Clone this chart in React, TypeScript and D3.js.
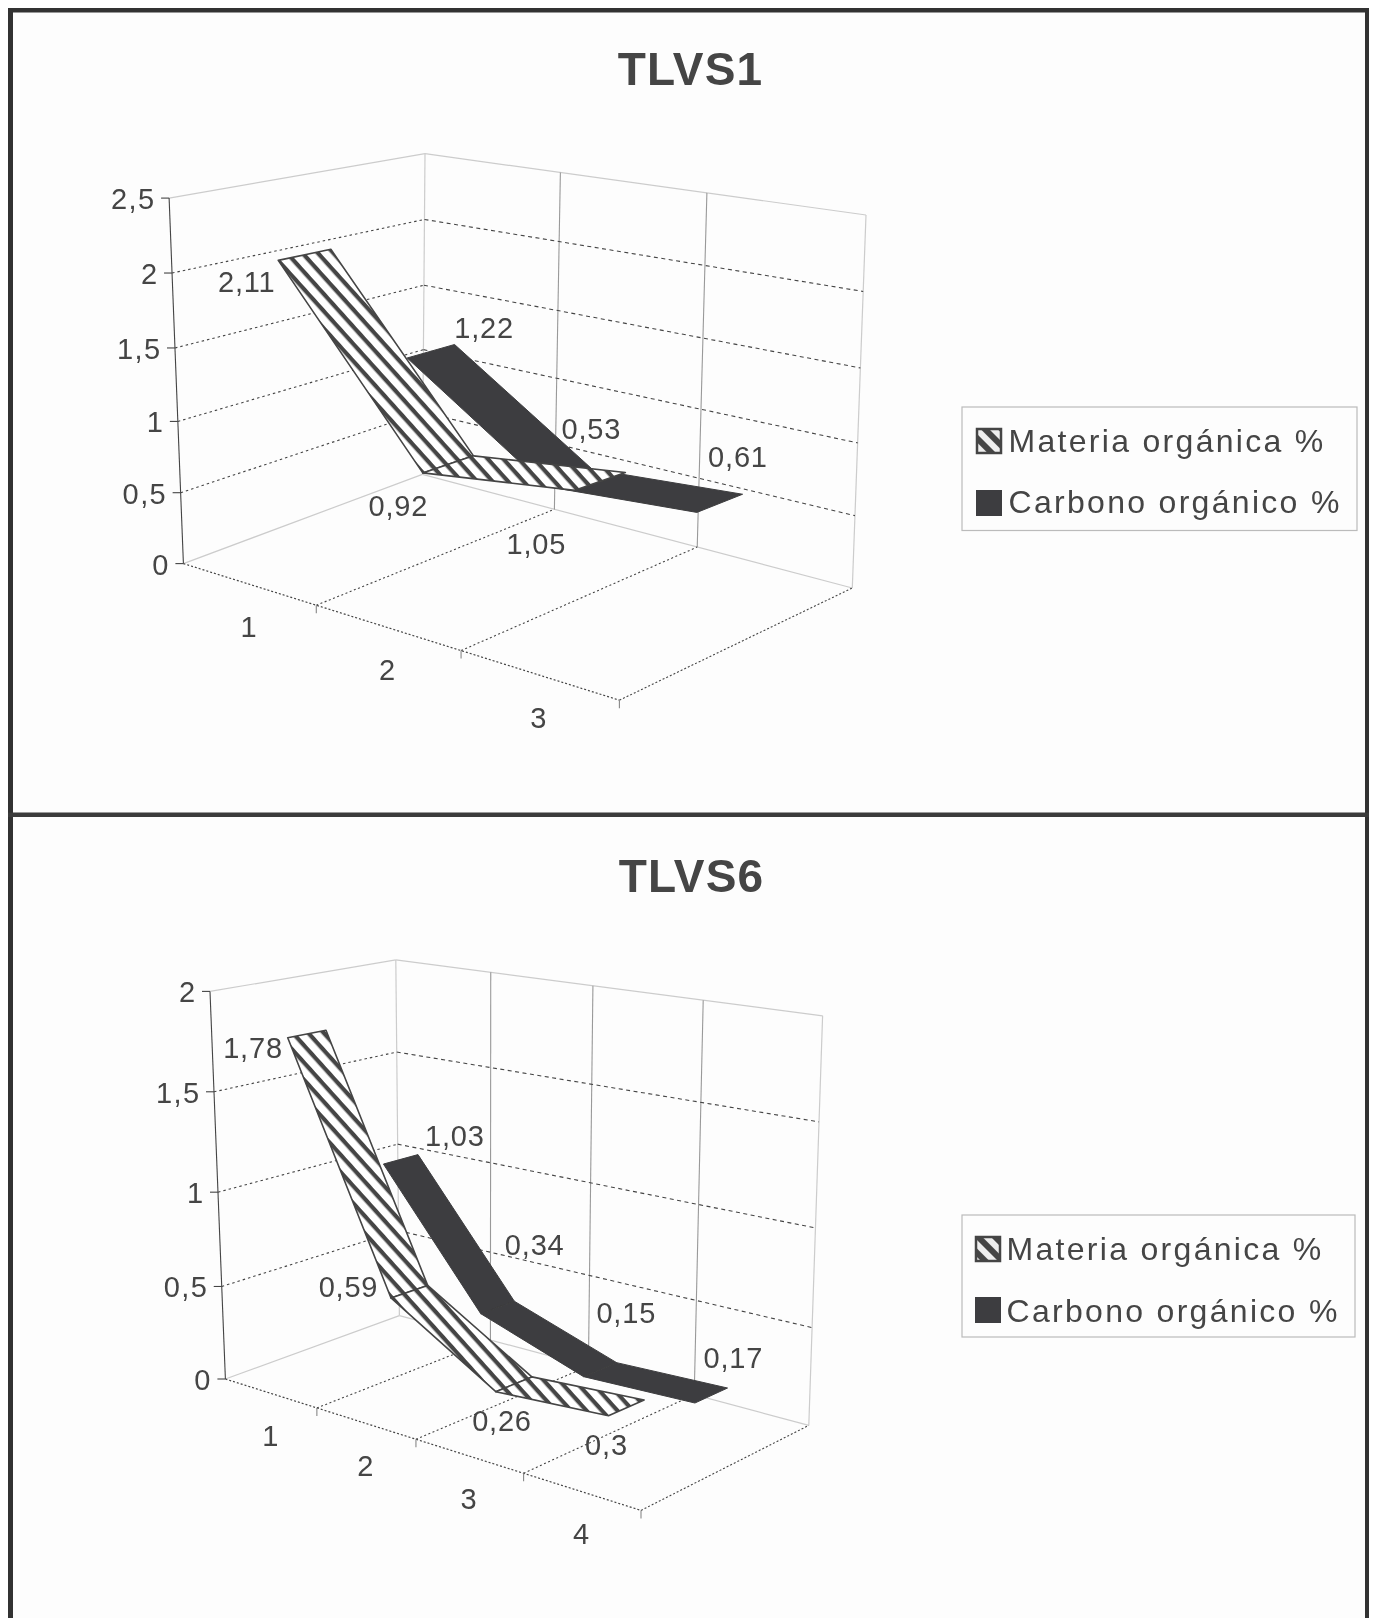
import React from "react";
import * as d3 from "d3";

const seriesNames = ["Materia orgánica %", "Carbono orgánico %"];

const tlvs1Categories = ["1", "2", "3"];
const tlvs1Materia = [2.11, 0.92, 1.05];
const tlvs1Carbono = [1.22, 0.53, 0.61];
const tlvs1Ticks = [0, 0.5, 1, 1.5, 2, 2.5];
const tlvs1TickPos = [0, 0.194, 0.389, 0.59, 0.795, 1];
const tlvs1MateriaOffsets = [[-58, 27], [-50, 42], [-64, 63]];
const tlvs1CarbonoOffsets = [[53, -23], [22, -49], [18, -46]];

const tlvs6Categories = ["1", "2", "3", "4"];
const tlvs6Materia = [1.78, 0.59, 0.26, 0.3];
const tlvs6Carbono = [1.03, 0.34, 0.15, 0.17];
const tlvs6Ticks = [0, 0.5, 1, 1.5, 2];
const tlvs6TickPos = [0, 0.2387, 0.482, 0.741, 1];
const tlvs6MateriaOffsets = [[-54, 14], [-61, -5], [-12, 37], [-20, 37]];
const tlvs6CarbonoOffsets = [[54, -23], [37, -62], [26, -57], [22, -37]];

type Pt = [number, number];
const INK = "#444";
const FONT = "'Liberation Sans', Arial, sans-serif";
const fmt = (v: number) => String(v).replace(".", ",");

function quadMap(p0: Pt, p1: Pt, p2: Pt, p3: Pt) {
  const dx1 = p1[0] - p2[0], dx2 = p3[0] - p2[0], sx = p0[0] - p1[0] + p2[0] - p3[0];
  const dy1 = p1[1] - p2[1], dy2 = p3[1] - p2[1], sy = p0[1] - p1[1] + p2[1] - p3[1];
  const den = dx1 * dy2 - dx2 * dy1;
  const g = (sx * dy2 - dx2 * sy) / den;
  const h = (dx1 * sy - sx * dy1) / den;
  const a = p1[0] - p0[0] + g * p1[0], b = p3[0] - p0[0] + h * p3[0], c = p0[0];
  const d = p1[1] - p0[1] + g * p1[1], e = p3[1] - p0[1] + h * p3[1], f = p0[1];
  return (u: number, v: number): Pt => {
    const w = g * u + h * v + 1;
    return [(a * u + b * v + c) / w, (d * u + e * v + f) / w];
  };
}

type PanelProps = {
  id: string;
  title: string;
  titleX: number;
  titleY: number;
  categories: string[];
  materia: number[];
  carbono: number[];
  ticks: number[];
  tickPos: number[];
  materiaOffsets: number[][];
  carbonoOffsets: number[][];
  floor: [Pt, Pt, Pt, Pt];
  top: [Pt, Pt, Pt, Pt];
  legend: { x0: number; x1: number; y0: number; y1: number; sw: number; swX: number; swY: number[]; txtX: number; txtY: number[] };
};

function Panel(p: PanelProps) {
  const floor = quadMap(...p.floor);
  const roof = quadMap(...p.top);
  const frac = d3.scaleLinear().domain(p.ticks).range(p.tickPos);
  const uBand = d3.scaleBand().domain(p.categories).range([0, 1]);
  const vBand = d3.scaleBand().domain(seriesNames).range([0, 1]).paddingInner(0.6).paddingOuter(0.3);
  const at = (u: number, v: number, val: number): Pt => {
    const f = floor(u, v), t = roof(u, v), k = frac(val);
    return [f[0] + (t[0] - f[0]) * k, f[1] + (t[1] - f[1]) * k];
  };
  const line = d3.line();
  const yMax = p.ticks[p.ticks.length - 1];
  const uTicks = p.categories.map((c) => uBand(c)! + uBand.bandwidth());
  const uInner = uTicks.slice(0, -1);
  const centers = p.categories.map((c) => uBand(c)! + uBand.bandwidth() / 2);

  const ribbon = (name: string, vals: number[]) => {
    const v0 = vBand(name)!, v1 = v0 + vBand.bandwidth();
    return d3.pairs(d3.range(vals.length)).map(([a, b]) =>
      line([at(centers[a], v0, vals[a]), at(centers[b], v0, vals[b]), at(centers[b], v1, vals[b]), at(centers[a], v1, vals[a])])! + "Z"
    );
  };
  const center = (name: string, i: number, vals: number[]): Pt =>
    at(centers[i], vBand(name)! + vBand.bandwidth() / 2, vals[i]);

  const L = (a: Pt, b: Pt, stroke: string, w: number, dash?: string, key?: string) => (
    <line key={key} x1={a[0]} y1={a[1]} x2={b[0]} y2={b[1]} stroke={stroke} strokeWidth={w} strokeDasharray={dash} />
  );

  return (
    <g fontFamily={FONT} fill={INK}>
      <defs>
        <pattern id={p.id + "-h"} width={11.5} height={11.5} patternUnits="userSpaceOnUse" patternTransform="rotate(48)">
          <rect width={11.5} height={11.5} fill="#fff" />
          <rect width={11.5} height={4.2} fill={INK} />
        </pattern>
        <pattern id={p.id + "-s"} width={12} height={12} patternUnits="userSpaceOnUse" patternTransform="rotate(45)">
          <rect width={12} height={12} fill="#eee" />
          <rect width={12} height={6} fill={INK} />
        </pattern>
      </defs>
      <text x={p.titleX} y={p.titleY} fontSize={46} fontWeight={700} textAnchor="middle" letterSpacing={1.2}>{p.title}</text>

      {/* walls */}
      {L(at(0, 0, yMax), at(0, 1, yMax), "#ccc", 1.2)}
      {L(at(0, 1, yMax), at(1, 1, yMax), "#ccc", 1.2)}
      {L(at(0, 1, 0), at(0, 1, yMax), "#ccc", 1.2)}
      {L(at(1, 1, 0), at(1, 1, yMax), "#ccc", 1.2)}
      {L(at(0, 0, 0), at(0, 1, 0), "#ccc", 1.2)}
      {L(at(0, 1, 0), at(1, 1, 0), "#ccc", 1.2)}
      {uInner.map((u) => L(at(u, 1, 0), at(u, 1, yMax), "#999", 1.1, undefined, "v" + u))}
      {p.ticks.slice(1, -1).map((t) => (
        <g key={"g" + t}>
          {L(at(0, 0, t), at(0, 1, t), INK, 1.1, "2.5 3")}
          {L(at(0, 1, t), at(1, 1, t), INK, 1.1, "4 3.5")}
        </g>
      ))}
      {/* floor */}
      {uInner.map((u) => L(at(u, 0, 0), at(u, 1, 0), INK, 1.1, "2 2.5", "f" + u))}
      {L(at(0, 0, 0), at(1, 0, 0), INK, 1.2, "2 2")}
      {L(at(1, 0, 0), at(1, 1, 0), INK, 1.1, "2 2")}
      {/* value axis */}
      {L(at(0, 0, 0), at(0, 0, yMax), INK, 1.1)}
      {p.ticks.map((t) => {
        const a = at(0, 0, t);
        return (
          <g key={"t" + t}>
            {L([a[0] - 8, a[1]], a, INK, 1.1)}
            <text x={a[0] - 13.5} y={a[1] + 11} fontSize={29} textAnchor="end" letterSpacing={1.4}>{fmt(t)}</text>
          </g>
        );
      })}
      {/* category ticks and labels */}
      {uTicks.map((u) => {
        const a = at(u, 0, 0);
        return <g key={"c" + u}>{L(a, [a[0], a[1] + 8], "#888", 1.1)}</g>;
      })}
      {p.categories.map((c, i) => {
        const a = at(centers[i], 0, 0);
        return <text key={"l" + c} x={a[0]} y={a[1] + 53} fontSize={29} textAnchor="middle">{c}</text>;
      })}
      {/* ribbons: back series first */}
      {ribbon(seriesNames[1], p.carbono).map((d, i) => (
        <path key={"cb" + i} d={d} fill="#3d3d3f" stroke="#3d3d3f" strokeWidth={1} />
      ))}
      {ribbon(seriesNames[0], p.materia).map((d, i) => (
        <path key={"mo" + i} d={d} fill={`url(#${p.id}-h)`} stroke={INK} strokeWidth={1.6} strokeLinejoin="round" />
      ))}
      {/* value labels */}
      {p.materia.map((v, i) => {
        const a = center(seriesNames[0], i, p.materia);
        return <text key={"ml" + i} x={a[0] + p.materiaOffsets[i][0]} y={a[1] + p.materiaOffsets[i][1] + 10} fontSize={29} textAnchor="middle" letterSpacing={0.8}>{fmt(v)}</text>;
      })}
      {p.carbono.map((v, i) => {
        const a = center(seriesNames[1], i, p.carbono);
        return <text key={"cl" + i} x={a[0] + p.carbonoOffsets[i][0]} y={a[1] + p.carbonoOffsets[i][1] + 10} fontSize={29} textAnchor="middle" letterSpacing={0.8}>{fmt(v)}</text>;
      })}
      {/* legend */}
      <rect x={p.legend.x0} y={p.legend.y0} width={p.legend.x1 - p.legend.x0} height={p.legend.y1 - p.legend.y0} fill="none" stroke="#bbb" strokeWidth={1.2} />
      <rect x={p.legend.swX + 1} y={p.legend.swY[0] + 1} width={p.legend.sw - 2} height={p.legend.sw - 2} fill={`url(#${p.id}-s)`} stroke={INK} strokeWidth={2.5} />
      <rect x={p.legend.swX} y={p.legend.swY[1]} width={p.legend.sw} height={p.legend.sw} fill="#3d3d3f" />
      {seriesNames.map((n, i) => (
        <text key={n} x={p.legend.txtX} y={p.legend.txtY[i]} fontSize={32} letterSpacing={2.3}>{n}</text>
      ))}
    </g>
  );
}

export default function App() {
  return (
    <svg width={1375} height={1618} style={{ position: "absolute", left: 0, top: 0, display: "block", background: "#fff" }}>
      <defs>
        <filter id="soft" x="0" y="0" width="100%" height="100%">
          <feGaussianBlur stdDeviation={0.45} />
        </filter>
      </defs>
      <rect x={12} y={10} width={1354} height={1608} fill="#fdfdfd" />
      <g filter="url(#soft)">
        <Panel
          id="a"
          title="TLVS1"
          titleX={690.5}
          titleY={85}
          categories={tlvs1Categories}
          materia={tlvs1Materia}
          carbono={tlvs1Carbono}
          ticks={tlvs1Ticks}
          tickPos={tlvs1TickPos}
          materiaOffsets={tlvs1MateriaOffsets}
          carbonoOffsets={tlvs1CarbonoOffsets}
          floor={[[183.4, 563.6], [619.4, 700.2], [852.3, 588], [422.4, 474.4]]}
          top={[[169.1, 198.1], [614.8, 271.3], [866, 215], [425, 153.7]]}
          legend={{ x0: 962, x1: 1357, y0: 407, y1: 530.5, sw: 26, swX: 976, swY: [428, 490], txtX: 1008.5, txtY: [451.5, 513] }}
        />
        <Panel
          id="b"
          title="TLVS6"
          titleX={691.5}
          titleY={892}
          categories={tlvs6Categories}
          materia={tlvs6Materia}
          carbono={tlvs6Carbono}
          ticks={tlvs6Ticks}
          tickPos={tlvs6TickPos}
          materiaOffsets={tlvs6MateriaOffsets}
          carbonoOffsets={tlvs6CarbonoOffsets}
          floor={[[225.4, 1379], [641, 1510.4], [808.8, 1425.4], [399.4, 1315.6]]}
          top={[[210, 991.4], [642.4, 1058.1], [822.6, 1015.8], [395.8, 959.9]]}
          legend={{ x0: 962, x1: 1355, y0: 1215, y1: 1337, sw: 26, swX: 975, swY: [1236, 1297], txtX: 1006.5, txtY: [1259.5, 1321.5] }}
        />
        <rect x={8} y={8} width={1361} height={4.5} fill="#333" />
        <rect x={8} y={8} width={5} height={1610} fill="#333" />
        <rect x={1365} y={8} width={4} height={1610} fill="#333" />
        <rect x={8} y={812.5} width={1361} height={4.5} fill="#3a3a3a" />
      </g>
    </svg>
  );
}
